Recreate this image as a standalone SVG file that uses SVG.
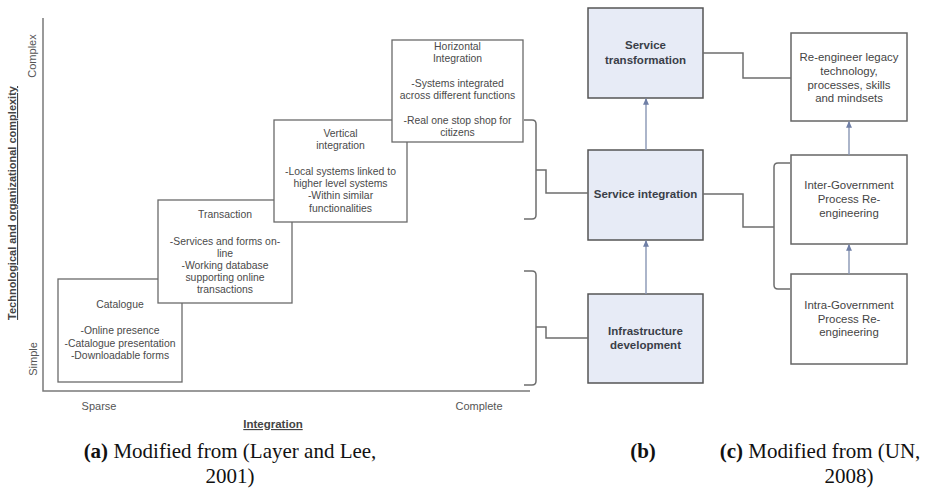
<svg xmlns="http://www.w3.org/2000/svg" width="928" height="489" viewBox="0 0 928 489">
<defs>
<style>
.lbox{fill:#fff;stroke:#6a6a6a;stroke-width:1.3}
.ltxt{font-family:"Liberation Sans",Arial,sans-serif;font-size:10.4px;fill:#4a4a4a;text-anchor:middle}
.axis{stroke:#7a7a7a;stroke-width:1.5;fill:none}
.axlbl{font-family:"Liberation Sans",Arial,sans-serif;font-size:11px;fill:#555;text-anchor:middle}
.axttl{font-family:"Liberation Sans",Arial,sans-serif;font-size:11px;font-weight:bold;fill:#444;text-anchor:middle;text-decoration:underline}
.mbox{fill:#e7ebf6;stroke:#555;stroke-width:1.5}
.mtxt{font-family:"Liberation Sans",Arial,sans-serif;font-size:11.5px;font-weight:bold;fill:#3a3e48;text-anchor:middle}
.rbox{fill:#fff;stroke:#666;stroke-width:1.5}
.rtxt{font-family:"Liberation Sans",Arial,sans-serif;font-size:11.4px;fill:#444;text-anchor:middle}
.conn{fill:none;stroke:#6e6e6e;stroke-width:1.5}
.arr{fill:none;stroke:#8896b4;stroke-width:1.4;marker-end:url(#ah)}
.cap{font-family:"Liberation Serif","Times New Roman",serif;font-size:21px;fill:#111;text-anchor:middle}
</style>
<marker id="ah" viewBox="0 0 6 6" refX="5" refY="3" markerWidth="5" markerHeight="5" orient="auto">
<path d="M0,0.5 L6,3 L0,5.5 Z" fill="#6f7fa6"/>
</marker>
</defs>

<!-- axes -->
<g id="axes">
<path class="axis" d="M43,18 V391 H530"/>
<text class="axttl" transform="translate(16,203) rotate(-90)">Technological and organizational complexity</text>
<text class="axlbl" transform="translate(36,56) rotate(-90)">Complex</text>
<text class="axlbl" transform="translate(37,359) rotate(-90)">Simple</text>
<text class="axlbl" x="99" y="410">Sparse</text>
<text class="axlbl" x="479" y="410">Complete</text>
<text class="axttl" x="273" y="428" style="font-size:11.5px">Integration</text>
</g>

<!-- left panel stages -->
<g id="catalogue">
<rect class="lbox" x="58" y="279" width="124" height="103"/>
<text class="ltxt" x="120" y="308">Catalogue</text>
<text class="ltxt" x="120" y="334">-Online presence</text>
<text class="ltxt" x="120" y="346.5">-Catalogue presentation</text>
<text class="ltxt" x="120" y="359">-Downloadable forms</text>
</g>
<g id="transaction">
<rect class="lbox" x="158" y="200" width="134" height="103"/>
<text class="ltxt" x="225" y="218">Transaction</text>
<text class="ltxt" x="225" y="245">-Services and forms on-</text>
<text class="ltxt" x="225" y="257">line</text>
<text class="ltxt" x="225" y="269">-Working database</text>
<text class="ltxt" x="225" y="281">supporting online</text>
<text class="ltxt" x="225" y="293">transactions</text>
</g>
<g id="vertical">
<rect class="lbox" x="274" y="120" width="133" height="102"/>
<text class="ltxt" x="340.5" y="137">Vertical</text>
<text class="ltxt" x="340.5" y="149">integration</text>
<text class="ltxt" x="340.5" y="175">-Local systems linked to</text>
<text class="ltxt" x="340.5" y="187">higher level systems</text>
<text class="ltxt" x="340.5" y="199">-Within similar</text>
<text class="ltxt" x="340.5" y="212">functionalities</text>
</g>
<g id="horizontal">
<rect class="lbox" x="392" y="40" width="131" height="102"/>
<text class="ltxt" x="457.5" y="50">Horizontal</text>
<text class="ltxt" x="457.5" y="62">Integration</text>
<text class="ltxt" x="457.5" y="87">-Systems integrated</text>
<text class="ltxt" x="457.5" y="99">across different functions</text>
<text class="ltxt" x="457.5" y="124">-Real one stop shop for</text>
<text class="ltxt" x="457.5" y="136">citizens</text>
</g>

<!-- middle panel -->
<g id="service-transformation">
<rect class="mbox" x="588" y="8" width="115" height="90"/>
<text class="mtxt" x="645.5" y="49">Service</text>
<text class="mtxt" x="645.5" y="64">transformation</text>
</g>
<g id="service-integration">
<rect class="mbox" x="588" y="150" width="115" height="90"/>
<text class="mtxt" x="645.5" y="198">Service integration</text>
</g>
<g id="infrastructure">
<rect class="mbox" x="588" y="294" width="115" height="89"/>
<text class="mtxt" x="645.5" y="335">Infrastructure</text>
<text class="mtxt" x="645.5" y="349">development</text>
</g>

<!-- right panel -->
<g id="re-engineer">
<rect class="rbox" x="791" y="33" width="116" height="88"/>
<text class="rtxt" x="849" y="61">Re-engineer legacy</text>
<text class="rtxt" x="849" y="75">technology,</text>
<text class="rtxt" x="849" y="89">processes, skills</text>
<text class="rtxt" x="849" y="102">and mindsets</text>
</g>
<g id="inter-government">
<rect class="rbox" x="791" y="155" width="116" height="89"/>
<text class="rtxt" x="849" y="189">Inter-Government</text>
<text class="rtxt" x="849" y="203">Process Re-</text>
<text class="rtxt" x="849" y="217">engineering</text>
</g>
<g id="intra-government">
<rect class="rbox" x="791" y="274" width="116" height="90"/>
<text class="rtxt" x="849" y="309">Intra-Government</text>
<text class="rtxt" x="849" y="323">Process Re-</text>
<text class="rtxt" x="849" y="336">engineering</text>
</g>

<!-- connectors -->
<g id="connectors">
<path class="conn" d="M524,120 H532 Q536,120 536,124 V215 Q536,219 532,219 H524"/>
<path class="conn" d="M536,170 H546 V193 H588"/>
<path class="conn" d="M524,271 H532 Q536,271 536,275 V381 Q536,385 532,385 H524"/>
<path class="conn" d="M536,327 H546 V338 H588"/>
<path class="conn" d="M703,53 H743 V78 H791"/>
<path class="conn" d="M703,194 H743 V227 H774"/>
<path class="conn" d="M790,163 H778 Q774,163 774,167 V285 Q774,289 778,289 H790"/>
<path class="arr" d="M646,150 V99"/>
<path class="arr" d="M646,294 V241"/>
<path class="arr" d="M849,155 V122"/>
<path class="arr" d="M849,274 V245"/>
</g>

<!-- captions -->
<g id="captions">
<text class="cap" x="230" y="458"><tspan font-weight="bold">(a)</tspan> Modified from (Layer and Lee,</text>
<text class="cap" x="230" y="483">2001)</text>
<text class="cap" x="643" y="458" font-weight="bold">(b)</text>
<text class="cap" x="820" y="458"><tspan font-weight="bold">(c)</tspan> Modified from (UN,</text>
<text class="cap" x="849" y="483">2008)</text>
</g>
</svg>
